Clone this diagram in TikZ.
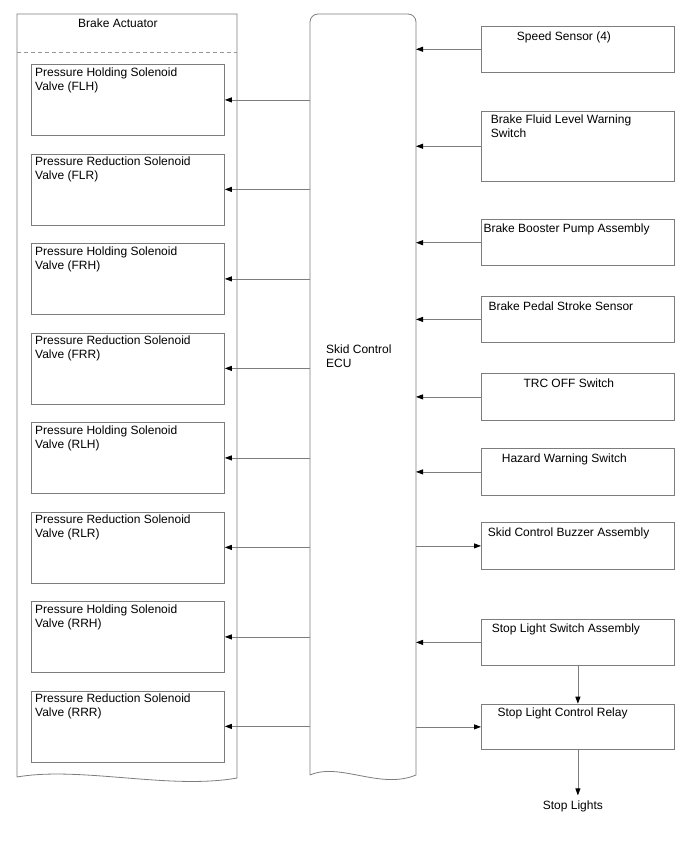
\documentclass[tikz,border=0pt]{standalone}
\usepackage{fontspec}
\setmainfont{Liberation Sans}
\usetikzlibrary{arrows.meta,calc}
\definecolor{lncol}{RGB}{125,125,125}
\begin{document}
\begin{tikzpicture}[x=1pt,y=-1pt,
  ln/.style={draw=lncol, line width=0.8pt},
  box/.style={ln, rectangle, anchor=north west, inner sep=0pt, minimum width=193pt},
  lbox/.style={box, minimum height=71pt},
  txt/.style={inner sep=0pt, font=\fontsize{12}{14}\selectfont, align=left, anchor=north west},
  arr/.style={ln, -{Triangle[length=7pt,width=5pt,color=black]}}
]
\useasboundingbox (0,0) rectangle (688,852);

% Brake actuator outline
\draw[ln] (17,777) -- (17,14) -- (237,14) -- (237,778)
  .. controls (170,790) and (80,766) .. (17,777);
\draw[ln, draw=lncol!80, dash pattern=on 4pt off 3pt] (17,52) -- (237,52);
\node[txt, anchor=base west] (act) at (78,27) {Brake Actuator};

% Skid control ECU outline
\draw[ln] (310,775) -- (310,22) .. controls (310,17.6) and (313.6,14) .. (318,14)
  -- (408,14) .. controls (412.4,14) and (416,17.6) .. (416,22)
  -- (416,775) .. controls (380,790) and (340,762) .. (310,775);
\coordinate (eL) at (310,0);
\coordinate (eR) at (416,0);
\node[txt] (ecu) at (326,344.5) {Skid Control\\ECU};

% Solenoid valves
\foreach \i/\t in {1/Pressure Holding Solenoid\\Valve (FLH),
                   2/Pressure Reduction Solenoid\\Valve (FLR),
                   3/Pressure Holding Solenoid\\Valve (FRH),
                   4/Pressure Reduction Solenoid\\Valve (FRR),
                   5/Pressure Holding Solenoid\\Valve (RLH),
                   6/Pressure Reduction Solenoid\\Valve (RLR),
                   7/Pressure Holding Solenoid\\Valve (RRH),
                   8/Pressure Reduction Solenoid\\Valve (RRR)}{
  \pgfmathsetmacro{\top}{64+89.5*(\i-1)}
  \node[lbox] (v\i) at (31,\top) {};
  \node[txt] (vt\i) at ($(v\i.north west)+(4,3.4)$) {\t};
  \draw[arr] (v\i.east -| eL) -- (v\i.east);
}

% Right-side components
\node[box, minimum height=45.7pt] (ss) at (481,26) {};
\node[txt, anchor=base west] (sst) at (516.7,40) {Speed Sensor (4)};
\node[box, minimum height=70.3pt] (bf) at (481,110.7) {};
\node[txt] (bft) at (490.7,114.5) {Brake Fluid Level Warning\\Switch};
\node[box, minimum height=46pt] (bp) at (481,219.3) {};
\node[txt, anchor=base west] (bpt) at (483.3,232.3) {Brake Booster Pump Assembly};
\node[box, minimum height=46pt] (ps) at (481,296) {};
\node[txt, anchor=base west] (pst) at (488.3,310) {Brake Pedal Stroke Sensor};
\node[box, minimum height=46.4pt] (trc) at (481,373.3) {};
\node[txt, anchor=base west] (trct) at (523.3,387.3) {TRC OFF Switch};
\node[box, minimum height=46.4pt] (hz) at (481,448.3) {};
\node[txt, anchor=base west] (hzt) at (501.7,462.3) {Hazard Warning Switch};
\node[box, minimum height=46.4pt] (bz) at (481,522.3) {};
\node[txt, anchor=base west] (bzt) at (487.7,536) {Skid Control Buzzer Assembly};
\node[box, minimum height=46pt] (sw) at (481,619) {};
\node[txt, anchor=base west] (swt) at (491.7,632.7) {Stop Light Switch Assembly};
\node[box, minimum height=45.6pt] (rl) at (481,703.7) {};
\node[txt, anchor=base west] (rlt) at (497.3,716.7) {Stop Light Control Relay};
\node[txt, anchor=base west] (sl) at (542.7,809.3) {Stop Lights};

% Connectors
\foreach \n in {ss,bf,bp,ps,trc,hz,sw}{
  \draw[arr] (\n.west) -- (\n.west -| eR);
}
\draw[arr] (bz.west -| eR) -- (bz.west);
\draw[arr] (rl.west -| eR) -- (rl.west);
\draw[arr] (sw.south) -- (rl.north);
\draw[arr, shorten >=5pt] (rl.south) -- (rl.south |- sl.north);
\end{tikzpicture}
\end{document}
